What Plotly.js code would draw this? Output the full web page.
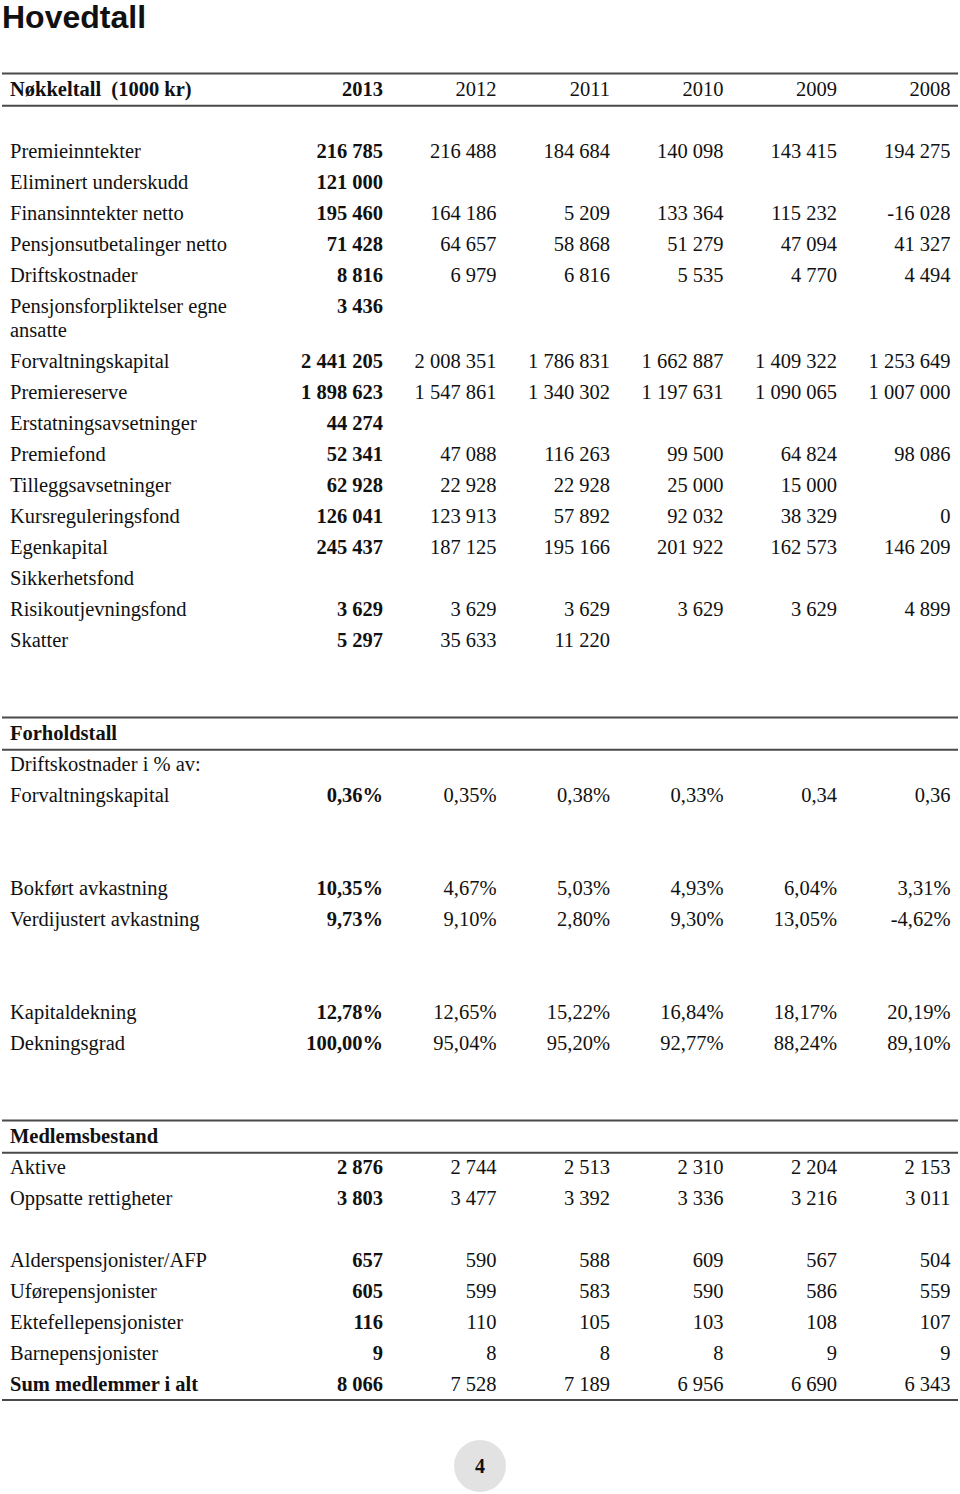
<!DOCTYPE html>
<html><head><meta charset="utf-8">
<script src="https://cdn.plot.ly/plotly-3.0.1.min.js"></script>
<style>html,body{margin:0;padding:0;background:#fff}#chart{width:960px;height:1494px}</style>
</head><body><div id="chart"></div>
<script>
// ---------- data ----------
const years = ['2013','2012','2011','2010','2009','2008'];
const sectionTitles = ['Nøkkeltall  (1000 kr)', 'Forholdstall', 'Medlemsbestand'];
// Nøkkeltall (1000 kr)
const premieinntekter = [216785, 216488, 184684, 140098, 143415, 194275];
const eliminertUnderskudd = [121000, null, null, null, null, null];
const finansinntekterNetto = [195460, 164186, 5209, 133364, 115232, -16028];
const pensjonsutbetalingerNetto = [71428, 64657, 58868, 51279, 47094, 41327];
const driftskostnader = [8816, 6979, 6816, 5535, 4770, 4494];
const pensjonsforpliktelserEgneAnsatte = [3436, null, null, null, null, null];
const forvaltningskapital = [2441205, 2008351, 1786831, 1662887, 1409322, 1253649];
const premiereserve = [1898623, 1547861, 1340302, 1197631, 1090065, 1007000];
const erstatningsavsetninger = [44274, null, null, null, null, null];
const premiefond = [52341, 47088, 116263, 99500, 64824, 98086];
const tilleggsavsetninger = [62928, 22928, 22928, 25000, 15000, null];
const kursreguleringsfond = [126041, 123913, 57892, 92032, 38329, 0];
const egenkapital = [245437, 187125, 195166, 201922, 162573, 146209];
const sikkerhetsfond = [null, null, null, null, null, null];
const risikoutjevningsfond = [3629, 3629, 3629, 3629, 3629, 4899];
const skatter = [5297, 35633, 11220, null, null, null];
// Forholdstall
const driftPctAvForvaltningskapital = ['0,36%', '0,35%', '0,38%', '0,33%', '0,34', '0,36'];
const bokfortAvkastning = [10.35, 4.67, 5.03, 4.93, 6.04, 3.31];
const verdijustertAvkastning = [9.73, 9.10, 2.80, 9.30, 13.05, -4.62];
const kapitaldekning = [12.78, 12.65, 15.22, 16.84, 18.17, 20.19];
const dekningsgrad = [100.00, 95.04, 95.20, 92.77, 88.24, 89.10];
// Medlemsbestand
const aktive = [2876, 2744, 2513, 2310, 2204, 2153];
const oppsatteRettigheter = [3803, 3477, 3392, 3336, 3216, 3011];
const alderspensjonister = [657, 590, 588, 609, 567, 504];
const uforepensjonister = [605, 599, 583, 590, 586, 559];
const ektefellepensjonister = [116, 110, 105, 103, 108, 107];
const barnepensjonister = [9, 8, 8, 8, 9, 9];
const sumMedlemmer = [8066, 7528, 7189, 6956, 6690, 6343];
const pageNumber = '4';

// ---------- formatting ----------
function nok(v) {
  if (v === null || v === undefined) return '';
  const s = Math.abs(v).toString().replace(/\B(?=(\d{3})+(?!\d))/g, ' ');
  return (v < 0 ? '-' : '') + s;
}
function pct(v) {
  if (v === null || v === undefined) return '';
  return v.toFixed(2).replace('.', ',') + '%';
}
function raw(v) { return v === null || v === undefined ? '' : v; }

// ---------- row layout (in line slots) ----------
const spec = [
  {kind:'head', label: sectionTitles[0], values: years, fmt: raw},
  {kind:'gap'},
  {kind:'row', label:'Premieinntekter', values: premieinntekter, fmt: nok},
  {kind:'row', label:'Eliminert underskudd', values: eliminertUnderskudd, fmt: nok},
  {kind:'row', label:'Finansinntekter netto', values: finansinntekterNetto, fmt: nok},
  {kind:'row', label:'Pensjonsutbetalinger netto', values: pensjonsutbetalingerNetto, fmt: nok},
  {kind:'row', label:'Driftskostnader', values: driftskostnader, fmt: nok},
  {kind:'row', label:'Pensjonsforpliktelser egne\nansatte', values: pensjonsforpliktelserEgneAnsatte, fmt: nok},
  {kind:'row', label:'Forvaltningskapital', values: forvaltningskapital, fmt: nok},
  {kind:'row', label:'Premiereserve', values: premiereserve, fmt: nok},
  {kind:'row', label:'Erstatningsavsetninger', values: erstatningsavsetninger, fmt: nok},
  {kind:'row', label:'Premiefond', values: premiefond, fmt: nok},
  {kind:'row', label:'Tilleggsavsetninger', values: tilleggsavsetninger, fmt: nok},
  {kind:'row', label:'Kursreguleringsfond', values: kursreguleringsfond, fmt: nok},
  {kind:'row', label:'Egenkapital', values: egenkapital, fmt: nok},
  {kind:'row', label:'Sikkerhetsfond', values: sikkerhetsfond, fmt: nok},
  {kind:'row', label:'Risikoutjevningsfond', values: risikoutjevningsfond, fmt: nok},
  {kind:'row', label:'Skatter', values: skatter, fmt: nok},
  {kind:'gap'}, {kind:'gap'},
  {kind:'head', label: sectionTitles[1], values: null},
  {kind:'row', label:'Driftskostnader i % av:', values: null},
  {kind:'row', label:'Forvaltningskapital', values: driftPctAvForvaltningskapital, fmt: raw},
  {kind:'gap'}, {kind:'gap'},
  {kind:'row', label:'Bokført avkastning', values: bokfortAvkastning, fmt: pct},
  {kind:'row', label:'Verdijustert avkastning', values: verdijustertAvkastning, fmt: pct},
  {kind:'gap'}, {kind:'gap'},
  {kind:'row', label:'Kapitaldekning', values: kapitaldekning, fmt: pct},
  {kind:'row', label:'Dekningsgrad', values: dekningsgrad, fmt: pct},
  {kind:'gap'}, {kind:'gap'},
  {kind:'head', label: sectionTitles[2], values: null},
  {kind:'row', label:'Aktive', values: aktive, fmt: nok},
  {kind:'row', label:'Oppsatte rettigheter', values: oppsatteRettigheter, fmt: nok},
  {kind:'gap'},
  {kind:'row', label:'Alderspensjonister/AFP', values: alderspensjonister, fmt: nok},
  {kind:'row', label:'Uførepensjonister', values: uforepensjonister, fmt: nok},
  {kind:'row', label:'Ektefellepensjonister', values: ektefellepensjonister, fmt: nok},
  {kind:'row', label:'Barnepensjonister', values: barnepensjonister, fmt: nok},
  {kind:'row', label:'Sum medlemmer i alt', values: sumMedlemmer, fmt: nok, boldLabel:true, last:true}
];

// ---------- geometry ----------
const LINE_PX = 31;
const TOP_PX = 90;
const WRAP_SLOT = 24 / LINE_PX;
const TEXT_SHIFT = 0.7 / LINE_PX;
const H = 1494, W = 960;
const labelX = 10;
const colRight = [383, 496.5, 610, 723.5, 837, 950.5];
const ruleX0 = 2, ruleX1 = 958;

const labelX_arr = [], labelY = [], labelT = [];
const colX = years.map(() => []), colY = years.map(() => []), colT = years.map(() => []);
const ruleSlots = [];
let slot = 0;
spec.forEach(r => {
  if (r.kind === 'gap') { slot += 1; return; }
  const lines = r.label.split('\n');
  lines.forEach((ln, i) => {
    labelX_arr.push(labelX);
    labelY.push(slot + i * WRAP_SLOT + TEXT_SHIFT);
    labelT.push((r.kind === 'head' || r.boldLabel) ? '<b>' + ln + '</b>' : ln);
  });
  if (r.kind === 'head') { ruleSlots.push(slot - 0.53, slot + 0.51); }
  if (r.values) {
    r.values.forEach((v, j) => {
      const txt = r.fmt(v);
      if (txt === '') return;
      colX[j].push(colRight[j]);
      colY[j].push(slot + TEXT_SHIFT);
      colT[j].push(j === 0 ? '<b>' + txt + '</b>' : txt);
    });
  }
  if (r.last) ruleSlots.push(slot + 0.48);
  slot += 1 + (lines.length - 1) * WRAP_SLOT;
});

const serif = '"Liberation Serif", "Times New Roman", Times, serif';
const FS = 20.5;
const traces = [{
  type: 'scatter', mode: 'text', x: labelX_arr, y: labelY, text: labelT,
  textposition: 'middle right', textfont: {family: serif, size: FS, color: '#111'},
  hoverinfo: 'skip', showlegend: false
}];
years.forEach((yr, j) => {
  traces.push({
    type: 'scatter', mode: 'text', x: colX[j], y: colY[j], text: colT[j],
    textposition: 'middle left', textfont: {family: serif, size: FS, color: '#111'},
    hoverinfo: 'skip', showlegend: false, name: yr
  });
});

const shapes = ruleSlots.map(s => ({
  type: 'line', xref: 'x', yref: 'y', x0: ruleX0, x1: ruleX1, y0: s, y1: s,
  line: {color: '#4a4a4a', width: 2}
}));
const badgeY = 1 - 1466 / H;
shapes.push({
  type: 'circle', xref: 'paper', yref: 'paper', xsizemode: 'pixel', ysizemode: 'pixel',
  xanchor: 0.5, yanchor: badgeY, x0: -26, x1: 26, y0: -26, y1: 26,
  fillcolor: '#e2e2e2', line: {width: 0}, layer: 'below'
});

const layout = {
  width: W, height: H,
  margin: {l: 0, r: 0, t: 0, b: 0, pad: 0},
  paper_bgcolor: '#fff', plot_bgcolor: '#fff',
  title: {
    text: '<b>Hovedtall</b>', x: 2 / W, xanchor: 'left', xref: 'paper',
    y: 1 - 16.5 / H, yanchor: 'middle', yref: 'container',
    font: {family: '"Liberation Sans", Arial, sans-serif', size: 32, color: '#111'}
  },
  xaxis: {range: [0, W], visible: false, fixedrange: true},
  yaxis: {range: [(H - TOP_PX) / LINE_PX, -TOP_PX / LINE_PX], visible: false, fixedrange: true},
  shapes: shapes,
  annotations: [{
    xref: 'paper', yref: 'paper', x: 0.5, y: badgeY, xanchor: 'center', yanchor: 'middle',
    text: '<b>' + pageNumber + '</b>', showarrow: false,
    font: {family: serif, size: 20, color: '#111'}
  }]
};

Plotly.newPlot('chart', traces, layout, {staticPlot: true, displayModeBar: false});
</script>
</body></html>
